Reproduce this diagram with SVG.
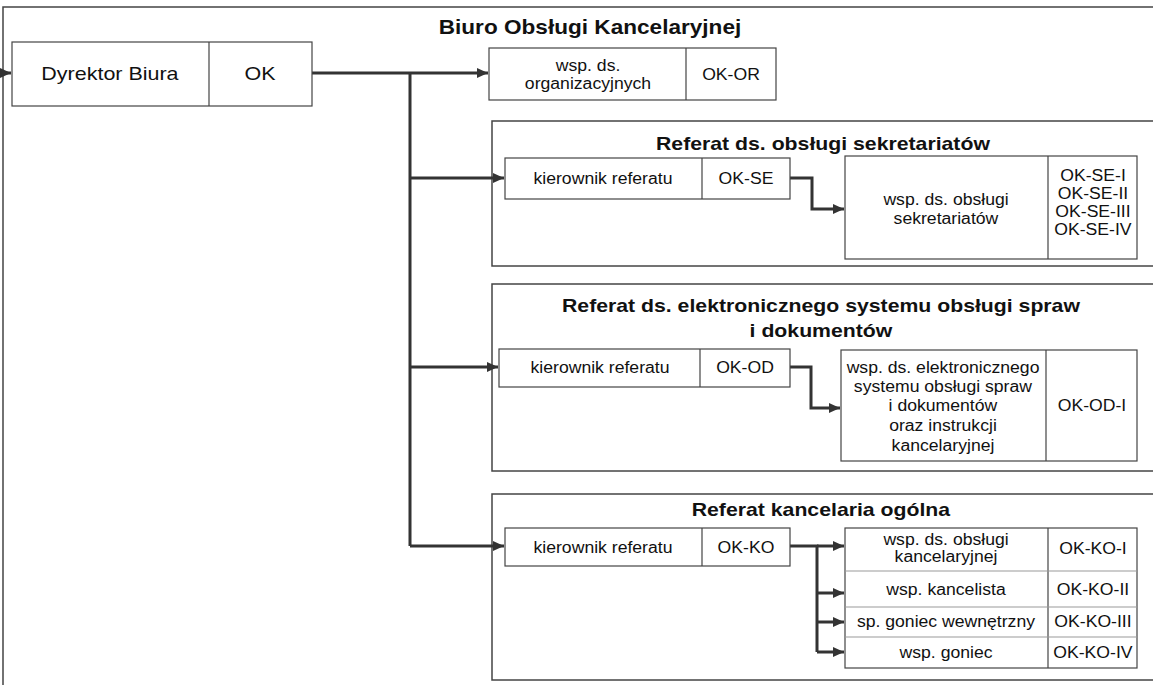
<svg xmlns="http://www.w3.org/2000/svg" width="1153" height="685" viewBox="0 0 1153 685">
<style>
text{font-family:"Liberation Sans",Arial,sans-serif;fill:#111;text-anchor:middle;transform-box:fill-box;transform-origin:center;transform:scaleX(1.13)}
.t{font-size:15.6px}
.big{font-size:19px}
.h1{font-size:20px;font-weight:bold}
.h2{font-size:18.8px;font-weight:bold}
.box{fill:#fff;stroke:#444;stroke-width:1.2}
.frame{fill:none;stroke:#444;stroke-width:1.5}
.div{stroke:#444;stroke-width:1.2}
.row{stroke:#999;stroke-width:1}
.con{fill:none;stroke:#333;stroke-width:3}
</style>
<defs>
<marker id="ah" markerUnits="userSpaceOnUse" markerWidth="12" markerHeight="10" refX="11" refY="5" orient="auto">
<path d="M0,0 L11,5 L0,10 Z" fill="#333"/>
</marker>
</defs>
<rect width="1153" height="685" fill="#fff"/>
<g id="frame">
<rect class="frame" x="3" y="7" width="1160" height="690"/>
<text class="h1" x="590" y="34">Biuro Obsługi Kancelaryjnej</text>
</g>
<g id="ref-se">
<rect class="frame" x="492" y="121" width="670" height="145"/>
<text class="h2" x="823" y="150">Referat ds. obsługi sekretariatów</text>
</g>
<g id="ref-od">
<rect class="frame" x="492" y="284" width="670" height="187"/>
<text class="h2" x="821" y="312">Referat ds. elektronicznego systemu obsługi spraw</text>
<text class="h2" x="821" y="337">i dokumentów</text>
</g>
<g id="ref-ko">
<rect class="frame" x="492" y="494" width="670" height="186"/>
<text class="h2" x="821" y="516">Referat kancelaria ogólna</text>
</g>
<g id="connectors">
<path class="con" d="M-5,73 H11" marker-end="url(#ah)"/>
<path class="con" d="M312,73 H488" marker-end="url(#ah)"/>
<path class="con" d="M410,73 V546"/>
<path class="con" d="M410,178 H504" marker-end="url(#ah)"/>
<path class="con" d="M410,367 H498" marker-end="url(#ah)"/>
<path class="con" d="M410,546 H504" marker-end="url(#ah)"/>
<path class="con" d="M790,178 H812 V209 H844" marker-end="url(#ah)"/>
<path class="con" d="M790,367 H811 V408 H840" marker-end="url(#ah)"/>
<path class="con" d="M790,546 H817 V652"/>
<path class="con" d="M817,546 H844" marker-end="url(#ah)"/>
<path class="con" d="M817,593 H844" marker-end="url(#ah)"/>
<path class="con" d="M817,622 H844" marker-end="url(#ah)"/>
<path class="con" d="M817,652 H844" marker-end="url(#ah)"/>
</g>
<g id="dyrektor">
<rect class="box" x="12" y="42" width="300" height="64"/>
<line class="div" x1="209" y1="42" x2="209" y2="106"/>
<text class="big" x="110" y="80">Dyrektor Biura</text>
<text class="big" x="260" y="80">OK</text>
</g>
<g id="ok-or">
<rect class="box" x="489" y="48" width="287" height="52"/>
<line class="div" x1="686" y1="48" x2="686" y2="100"/>
<text class="t" x="588" y="71">wsp. ds.</text>
<text class="t" x="588" y="89">organizacyjnych</text>
<text class="t" x="731" y="80">OK-OR</text>
</g>
<g id="ok-se">
<rect class="box" x="505" y="158" width="285" height="41"/>
<line class="div" x1="702" y1="158" x2="702" y2="199"/>
<text class="t" x="603" y="184">kierownik referatu</text>
<text class="t" x="746" y="184">OK-SE</text>
</g>
<g id="ok-se-wsp">
<rect class="box" x="845" y="156" width="292" height="103"/>
<line class="div" x1="1048" y1="156" x2="1048" y2="259"/>
<text class="t" x="946" y="205">wsp. ds. obsługi</text>
<text class="t" x="946" y="224">sekretariatów</text>
<text class="t" x="1093" y="181">OK-SE-I</text>
<text class="t" x="1093" y="199">OK-SE-II</text>
<text class="t" x="1093" y="217">OK-SE-III</text>
<text class="t" x="1093" y="235">OK-SE-IV</text>
</g>
<g id="ok-od">
<rect class="box" x="499" y="349" width="291" height="38"/>
<line class="div" x1="700" y1="349" x2="700" y2="387"/>
<text class="t" x="600" y="373">kierownik referatu</text>
<text class="t" x="745" y="373">OK-OD</text>
</g>
<g id="ok-od-wsp">
<rect class="box" x="841" y="350" width="296" height="111"/>
<line class="div" x1="1046" y1="350" x2="1046" y2="461"/>
<text class="t" x="943" y="373">wsp. ds. elektronicznego</text>
<text class="t" x="943" y="392">systemu obsługi spraw</text>
<text class="t" x="943" y="411">i dokumentów</text>
<text class="t" x="943" y="431">oraz instrukcji</text>
<text class="t" x="943" y="451">kancelaryjnej</text>
<text class="t" x="1092" y="411">OK-OD-I</text>
</g>
<g id="ok-ko">
<rect class="box" x="505" y="528" width="285" height="38"/>
<line class="div" x1="702" y1="528" x2="702" y2="566"/>
<text class="t" x="603" y="553">kierownik referatu</text>
<text class="t" x="746" y="553">OK-KO</text>
</g>
<g id="ok-ko-table">
<rect class="box" x="845" y="528" width="292" height="140"/>
<line class="div" x1="1048" y1="528" x2="1048" y2="668"/>
<line class="row" x1="845" y1="571" x2="1137" y2="571"/>
<line class="row" x1="845" y1="607" x2="1137" y2="607"/>
<line class="row" x1="845" y1="637" x2="1137" y2="637"/>
</g>
<g id="ok-ko-i">
<text class="t" x="946" y="545">wsp. ds. obsługi</text>
<text class="t" x="946" y="562">kancelaryjnej</text>
<text class="t" x="1093" y="554">OK-KO-I</text>
</g>
<g id="ok-ko-ii">
<text class="t" x="946" y="595">wsp. kancelista</text>
<text class="t" x="1093" y="595">OK-KO-II</text>
</g>
<g id="ok-ko-iii">
<text class="t" x="946" y="627">sp. goniec wewnętrzny</text>
<text class="t" x="1093" y="627">OK-KO-III</text>
</g>
<g id="ok-ko-iv">
<text class="t" x="946" y="658">wsp. goniec</text>
<text class="t" x="1093" y="658">OK-KO-IV</text>
</g>
</svg>
